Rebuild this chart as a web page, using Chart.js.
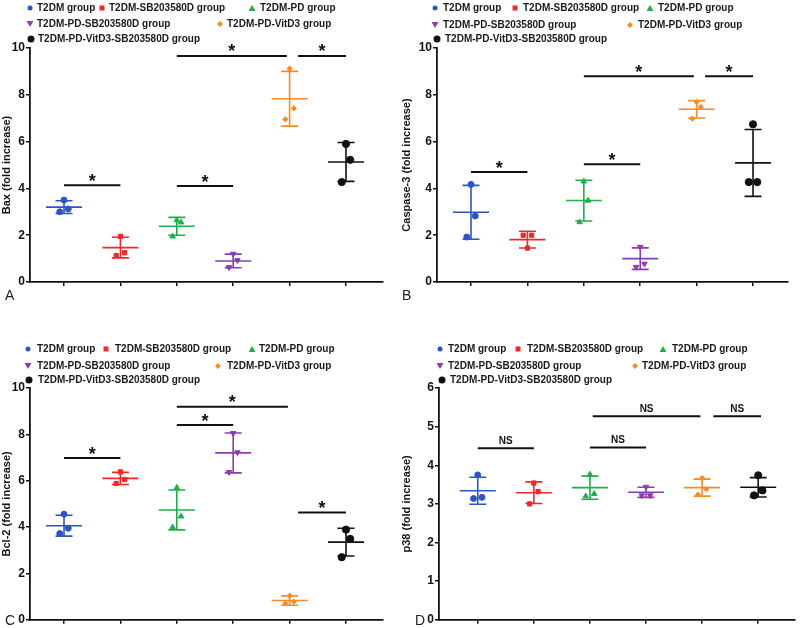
<!DOCTYPE html>
<html>
<head>
<meta charset="utf-8">
<script src="https://cdn.jsdelivr.net/npm/chart.js@4.4.1/dist/chart.umd.min.js"></script>
<style>
  body { margin: 0; background: #fff; font-family: "Liberation Sans", Arial, sans-serif; }
  #wrap { position: relative; width: 800px; height: 628px; overflow: hidden; }
  .panel { position: absolute; width: 400px; height: 314px; }
  .panel canvas { position: absolute; left: 0; top: 0; }
  .leg { position: absolute; font-weight: bold; font-size: 10px; color: #1a1a1a; white-space: nowrap; line-height: 12px; transform: translateY(-50%); }
  .mk { position: absolute; transform: translate(-50%, -50%); }
  .letter { position: absolute; font-size: 14px; line-height: 14px; color: #222; }
</style>
</head>
<body>
<div id="wrap">
  <div class="panel" id="pA" style="left:0;top:0"><canvas id="cA" width="400" height="314"></canvas></div>
  <div class="panel" id="pB" style="left:400px;top:0"><canvas id="cB" width="400" height="314"></canvas></div>
  <div class="panel" id="pC" style="left:0;top:314px"><canvas id="cC" width="400" height="314"></canvas></div>
  <div class="panel" id="pD" style="left:400px;top:314px"><canvas id="cD" width="400" height="314"></canvas></div>
</div>
<script>
// groups shared by all four panels
const groups = ['T2DM group', 'T2DM-SB203580D group', 'T2DM-PD group',
  'T2DM-PD-SB203580D group', 'T2DM-PD-VitD3 group', 'T2DM-PD-VitD3-SB203580D group'];
const colors = ['#2c55c4', '#ec2a2a', '#1fae4a', '#8a3db0', '#f58a26', '#111111'];
const categories = [1, 2, 3, 4, 5, 6];

// A - Bax
const baxPoints = [[3.5, 3.0, 3.12], [1.95, 1.13, 1.25], [2.64, 1.95, 2.55], [1.2, 0.63, 0.93], [9.12, 6.95, 7.42], [5.9, 4.27, 5.22]];
const baxMean = [3.2, 1.47, 2.38, 0.9, 7.83, 5.13];
const baxSD = [0.27, 0.44, 0.38, 0.29, 1.17, 0.83];
const baxSig = [[1, 2, 4.13, '*'], [3, 4, 4.1, '*'], [3, 4.95, 9.66, '*'], [5.15, 6, 9.66, '*']];

// B - Caspase-3
const caspPoints = [[4.17, 1.92, 2.82], [1.45, 2.0, 2.0], [4.3, 2.56, 3.48], [1.5, 0.64, 0.78], [7.69, 6.98, 7.48], [6.74, 4.27, 4.27]];
const caspMean = [2.98, 1.81, 3.48, 1.0, 7.38, 5.09];
const caspSD = [1.15, 0.36, 0.87, 0.46, 0.37, 1.43];
const caspSig = [[1, 2, 4.7, '*'], [3, 4, 5.03, '*'], [3, 4.95, 8.79, '*'], [5.15, 6, 8.79, '*']];

// C - Bcl-2
const bclPoints = [[4.56, 3.72, 3.95], [6.38, 5.88, 6.05], [5.7, 3.99, 4.46], [8.05, 6.37, 7.22], [1.04, 0.71, 0.78], [3.89, 2.7, 3.49]];
const bclMean = [4.06, 6.1, 4.74, 7.2, 0.83, 3.35];
const bclSD = [0.45, 0.26, 0.86, 0.86, 0.2, 0.6];
const bclSig = [[1, 2, 6.98, '*'], [3, 4, 8.4, '*'], [3, 4.97, 9.19, '*'], [5.15, 6, 4.63, '*']];

// D - p38
const p38Points = [[3.75, 3.14, 3.17], [3.54, 3.0, 3.32], [3.76, 3.2, 3.26], [3.44, 3.22, 3.22], [3.67, 3.24, 3.38], [3.74, 3.22, 3.35]];
const p38Mean = [3.34, 3.29, 3.42, 3.3, 3.42, 3.43];
const p38SD = [0.35, 0.28, 0.3, 0.13, 0.22, 0.25];
const p38Sig = [[1, 2, 4.44, 'NS'], [3, 4, 4.46, 'NS'], [3.05, 4.97, 5.27, 'NS'], [5.2, 6.05, 5.27, 'NS']];

const ticks10 = [0, 2, 4, 6, 8, 10];
const ticks6 = [0, 1, 2, 3, 4, 5, 6];

Chart.defaults.font.family = '"Liberation Sans", Arial, sans-serif';

const pointStyles = ['circle', 'rect', 'triangle', 'triangle', 'rectRot', 'circle'];
const pointSizes = [3, 3, 3.2, 3.2, 2.6, 3.6];
const jitter = [0, -0.075, 0.075];

// mean line + SD whiskers and significance brackets, drawn through the chart scales
const statsPlugin = {
  id: 'stats',
  afterDatasetsDraw(chart, args, opts) {
    const { ctx } = chart;
    const xs = chart.scales.x, ys = chart.scales.y;
    ctx.save();
    ctx.lineWidth = 1.6;
    opts.mean.forEach((m, i) => {
      const cx = xs.getPixelForValue(categories[i]);
      const yt = ys.getPixelForValue(m + opts.sd[i]);
      const yb = ys.getPixelForValue(m - opts.sd[i]);
      const ym = ys.getPixelForValue(m);
      ctx.strokeStyle = colors[i];
      ctx.beginPath();
      ctx.moveTo(cx, yt); ctx.lineTo(cx, yb);
      ctx.moveTo(cx - 8.5, yt); ctx.lineTo(cx + 8.5, yt);
      ctx.moveTo(cx - 8.5, yb); ctx.lineTo(cx + 8.5, yb);
      ctx.moveTo(cx - 18, ym); ctx.lineTo(cx + 18, ym);
      ctx.stroke();
    });
    ctx.strokeStyle = '#111';
    ctx.fillStyle = '#111';
    ctx.lineWidth = 2;
    ctx.textAlign = 'center';
    opts.sig.forEach(([a, b, y, label]) => {
      const x1 = xs.getPixelForValue(a), x2 = xs.getPixelForValue(b);
      const py = ys.getPixelForValue(y);
      ctx.beginPath();
      ctx.moveTo(x1, py); ctx.lineTo(x2, py);
      ctx.stroke();
      if (label === '*') {
        ctx.font = 'bold 18px "Liberation Sans", Arial, sans-serif';
        ctx.fillText(label, (x1 + x2) / 2, py + 1.5);
      } else {
        ctx.font = 'bold 10px "Liberation Sans", Arial, sans-serif';
        ctx.fillText(label, (x1 + x2) / 2, py - 4);
      }
    });
    ctx.restore();
  }
};

function makePanel(canvasId, cfg) {
  new Chart(document.getElementById(canvasId), {
    type: 'scatter',
    data: {
      datasets: groups.map((g, i) => ({
        label: g,
        data: cfg.points[i].map((v, j) => ({ x: categories[i] + jitter[j], y: v })),
        pointStyle: pointStyles[i],
        rotation: i === 3 ? 180 : 0,
        pointRadius: pointSizes[i],
        backgroundColor: colors[i],
        borderColor: colors[i],
        borderWidth: 1
      }))
    },
    options: {
      responsive: false,
      animation: false,
      events: [],
      layout: { padding: { top: cfg.top, right: cfg.right, left: 0, bottom: 0 } },
      plugins: {
        legend: { display: false },
        tooltip: { enabled: false },
        stats: { mean: cfg.mean, sd: cfg.sd, sig: cfg.sig }
      },
      scales: {
        x: {
          type: 'linear', min: cfg.xmin, max: cfg.xmax,
          afterBuildTicks: s => { s.ticks = categories.map(v => ({ value: v })); },
          afterFit: s => { s.height = cfg.bottom; },
          grid: { drawOnChartArea: false, tickLength: 4, color: '#111', lineWidth: 1.5 },
          border: { color: '#111', width: 1.8 },
          ticks: { callback: () => '', padding: 0 }
        },
        y: {
          min: 0, max: cfg.ymax,
          afterBuildTicks: s => { s.ticks = cfg.yticks.map(v => ({ value: v })); },
          afterFit: s => { s.width = cfg.left; },
          grid: { drawOnChartArea: false, tickLength: 4, color: '#111', lineWidth: 1.5 },
          border: { color: '#111', width: 1.8 },
          ticks: { font: { size: 12, weight: 'bold' }, color: '#111', padding: 1 },
          title: { display: true, text: cfg.title, font: { size: 11, weight: 'bold' }, color: '#111', padding: 0 }
        }
      }
    },
    plugins: [statsPlugin]
  });
}

makePanel('cA', { points: baxPoints, mean: baxMean, sd: baxSD, sig: baxSig, title: 'Bax (fold increase)',
  ymax: 10, yticks: ticks10, top: 48, right: 17, bottom: 32, left: 30, xmin: 0.397, xmax: 6.656 });
makePanel('cB', { points: caspPoints, mean: caspMean, sd: caspSD, sig: caspSig, title: 'Caspase-3 (fold increase)',
  ymax: 10, yticks: ticks10, top: 48, right: 12, bottom: 32, left: 37, xmin: 0.397, xmax: 6.62 });
makePanel('cC', { points: bclPoints, mean: bclMean, sd: bclSD, sig: bclSig, title: 'Bcl-2 (fold increase)',
  ymax: 10, yticks: ticks10, top: 74, right: 17, bottom: 6, left: 30, xmin: 0.397, xmax: 6.656 });
makePanel('cD', { points: p38Points, mean: p38Mean, sd: p38SD, sig: p38Sig, title: 'p38 (fold increase)',
  ymax: 6, yticks: ticks6, top: 74, right: 3, bottom: 6, left: 39, xmin: 0.309, xmax: 6.656 });

// HTML legends: [markerX, textX, rowY] inside each panel
const markerCss = [
  'width:5px;height:5px;border-radius:50%;',
  'width:5px;height:5px;',
  'width:7px;height:6px;clip-path:polygon(50% 0,100% 100%,0 100%);',
  'width:7px;height:6px;clip-path:polygon(0 0,100% 0,50% 100%);',
  'width:6px;height:6px;clip-path:polygon(50% 0,100% 50%,50% 100%,0 50%);',
  'width:7px;height:7px;border-radius:50%;'
];
const legendLayout = {
  pA: [[30, 37, 8], [102, 109, 8], [252, 260, 8], [30, 37, 24], [220, 227, 24], [31, 38, 39]],
  pB: [[35, 43, 8], [115, 123, 8], [250, 258, 8], [35, 43, 25], [230, 238, 25], [37, 45, 39]],
  pC: [[28, 37, 35], [106, 115, 35], [252, 259, 35], [28, 37, 52], [218, 227, 52], [29, 38, 66]],
  pD: [[40, 48, 35], [118, 127, 35], [263, 272, 35], [40, 48, 52], [235, 242, 52], [42, 50, 66]]
};
Object.entries(legendLayout).forEach(([pid, items]) => {
  const panel = document.getElementById(pid);
  items.forEach(([mx, tx, y], i) => {
    const mk = document.createElement('span');
    mk.className = 'mk';
    mk.style.cssText = markerCss[i] + `left:${mx}px;top:${y}px;background:${colors[i]};`;
    panel.appendChild(mk);
    const t = document.createElement('span');
    t.className = 'leg';
    t.style.left = tx + 'px';
    t.style.top = y + 'px';
    t.textContent = groups[i];
    panel.appendChild(t);
  });
});

const letters = [['A', 5, 288], ['B', 402, 288], ['C', 5, 613], ['D', 415, 613]];
letters.forEach(([s, x, y]) => {
  const d = document.createElement('div');
  d.className = 'letter';
  d.style.left = x + 'px';
  d.style.top = y + 'px';
  d.textContent = s;
  document.getElementById('wrap').appendChild(d);
});
</script>
</body>
</html>
